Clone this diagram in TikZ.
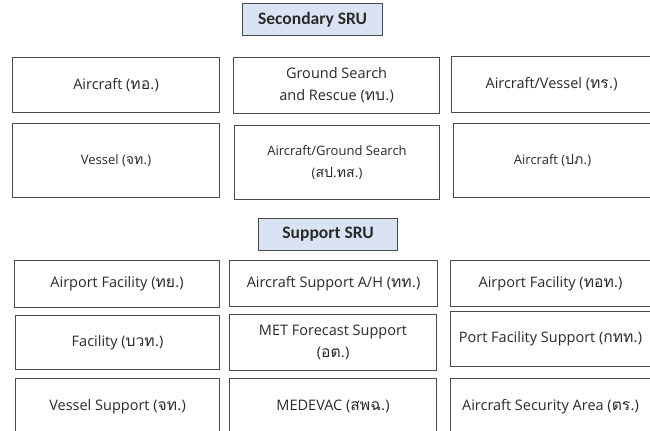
\documentclass[tikz,border=0pt]{standalone}
\usepackage{fontspec}
\setmainfont{Open Sans}
\newfontfamily\titlefont{Carlito}
\newfontfamily\thaifont[Script=Thai,Scale=1.08]{Loma}
\definecolor{edge}{HTML}{4A4A4A}
\definecolor{ink}{HTML}{2A2A2A}
\definecolor{headfill}{HTML}{DAE3F3}
\newcommand{\thabbr}[1]{{\thaifont #1}}
\tikzset{
  cell/.style={draw=edge, line width=1.1bp, fill=white, anchor=north west,
    align=center, text=ink, inner sep=0pt,
    font=\fontsize{14.5bp}{22bp}\selectfont},
  smallcell/.style={cell, font=\fontsize{13bp}{22bp}\selectfont},
  headbox/.style={cell, fill=headfill,
    font=\titlefont\bfseries\fontsize{17.5bp}{19bp}\selectfont},
}
\begin{document}
\begin{tikzpicture}[x=1bp,y=-1bp]
  \useasboundingbox (0,0) rectangle (650,430);
  \clip (0,0) rectangle (650,430);
  \fill[white] (0,0) rectangle (650,430);

  % Secondary search and rescue units
  \node[headbox, minimum width=140bp, minimum height=32bp] (sec) at (242,3) {Secondary SRU};

  \node[cell, minimum width=207bp, minimum height=55bp] (s11) at (12,57) {Aircraft (\thabbr{ทอ.})};
  \node[cell, minimum width=206bp, minimum height=56bp] (s12) at (233,57) {Ground Search\\and Rescue (\thabbr{ทบ.})};
  \node[cell, minimum width=210bp, minimum height=56bp] (s13) at (451,56) {Aircraft/Vessel (\thabbr{ทร.})\hspace*{10bp}};

  \node[smallcell, minimum width=207bp, minimum height=74bp] (s21) at (12,123) {Vessel (\thabbr{จท.})};
  \node[smallcell, minimum width=205bp, minimum height=74bp] (s22) at (234,125) {Aircraft/Ground Search\\(\thabbr{สป.ทส.})};
  \node[smallcell, minimum width=208bp, minimum height=74bp] (s23) at (453,123) {Aircraft (\thabbr{ปภ.})\hspace*{10bp}};

  % Support search and rescue units
  \node[headbox, minimum width=139bp, minimum height=32bp] (sup) at (258,218) {Support SRU};

  \node[cell, minimum width=205bp, minimum height=47bp] (p11) at (14,260) {Airport Facility (\thabbr{ทย.})};
  \node[cell, minimum width=208bp, minimum height=46bp] (p12) at (229,260) {Aircraft Support A/H (\thabbr{ทท.})};
  \node[cell, minimum width=210bp, minimum height=46bp] (p13) at (450,260) {Airport Facility (\thabbr{ทอท.})\hspace*{10bp}};

  \node[cell, minimum width=204bp, minimum height=54bp] (p21) at (15,315) {Facility (\thabbr{บวท.})};
  \node[cell, minimum width=207bp, minimum height=56bp] (p22) at (229,314) {MET Forecast Support\\(\thabbr{อต.})};
  \node[cell, minimum width=210bp, minimum height=55bp] (p23) at (450,311) {Port Facility Support (\thabbr{กทท.})\hspace*{10bp}};

  \node[cell, minimum width=204bp, minimum height=56bp] (p31) at (15,378) {Vessel Support (\thabbr{จท.})};
  \node[cell, minimum width=207bp, minimum height=56bp] (p32) at (229,378) {MEDEVAC (\thabbr{สพฉ.})};
  \node[cell, minimum width=210bp, minimum height=56bp] (p33) at (450,378) {Aircraft Security Area (\thabbr{ตร.})\hspace*{10bp}};
\end{tikzpicture}
\end{document}
